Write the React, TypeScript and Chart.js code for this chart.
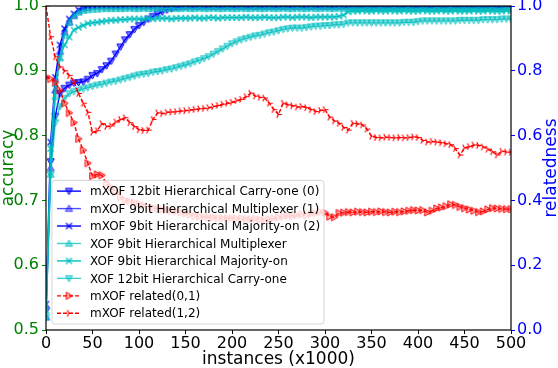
import React, { useEffect, useRef } from 'react';
import { Chart, registerables } from 'chart.js';

Chart.register(...registerables);

// ---------- data ----------
const instances = [
  0, 5, 10, 15, 20, 25, 30, 35, 40, 45,
  50, 55, 60, 65, 70, 75, 80, 85, 90, 95,
  100, 105, 110, 115, 120, 125, 130, 135, 140, 145,
  150, 155, 160, 165, 170, 175, 180, 185, 190, 195,
  200, 205, 210, 215, 220, 225, 230, 235, 240, 245,
  250, 255, 260, 265, 270, 275, 280, 285, 290, 295,
  300, 305, 310, 315, 320, 325, 330, 335, 340, 345,
  350, 355, 360, 365, 370, 375, 380, 385, 390, 395,
  400, 405, 410, 415, 420, 425, 430, 435, 440, 445,
  450, 455, 460, 465, 470, 475, 480, 485, 490, 495,
  500,
];

const seriesLabels = [
  'mXOF 12bit Hierarchical Carry-one (0)',
  'mXOF 9bit Hierarchical Multiplexer (1)',
  'mXOF 9bit Hierarchical Majority-on (2)',
  'XOF 9bit Hierarchical Multiplexer',
  'XOF 9bit Hierarchical Majority-on',
  'XOF 12bit Hierarchical Carry-one',
  'mXOF related(0,1)',
  'mXOF related(1,2)',
];

const mxofCarry12 = [
  0.53, 0.76, 0.83, 0.865, 0.873, 0.878, 0.881, 0.882, 0.883, 0.887,
  0.893, 0.896, 0.902, 0.908, 0.915, 0.926, 0.937, 0.948, 0.956, 0.964,
  0.970, 0.975, 0.980, 0.984, 0.988, 0.991, 0.994, 0.996, 0.998, 0.999,
  1, 1, 1, 1, 1, 1, 1, 1, 1, 1,
  1, 1, 1, 1, 1, 1, 1, 1, 1, 1,
  1, 1, 1, 1, 1, 1, 1, 1, 1, 1,
  1, 1, 1, 1, 1, 1, 1, 1, 1, 1,
  1, 1, 1, 1, 1, 1, 1, 1, 1, 1,
  1, 1, 1, 1, 1, 1, 1, 1, 1, 1,
  1, 1, 1, 1, 1, 1, 1, 1, 1, 1,
  1,
];

const mxofMux9 = [
  0.52, 0.75, 0.87, 0.93, 0.96, 0.975, 0.985, 0.992, 0.996, 0.998,
  0.999, 1, 1, 1, 1, 1, 1, 1, 1, 1,
  1, 1, 1, 1, 1, 1, 1, 1, 1, 1,
  1, 1, 1, 1, 1, 1, 1, 1, 1, 1,
  1, 1, 1, 1, 1, 1, 1, 1, 1, 1,
  1, 1, 1, 1, 1, 1, 1, 1, 1, 1,
  1, 1, 1, 1, 1, 1, 1, 1, 1, 1,
  1, 1, 1, 1, 1, 1, 1, 1, 1, 1,
  1, 1, 1, 1, 1, 1, 1, 1, 1, 1,
  1, 1, 1, 1, 1, 1, 1, 1, 1, 1,
  1,
];

const mxofMaj9 = [
  0.54, 0.79, 0.89, 0.94, 0.965, 0.98, 0.988, 0.994, 0.997, 0.999,
  1, 1, 1, 1, 1, 1, 1, 1, 1, 1,
  1, 1, 1, 1, 1, 1, 1, 1, 1, 1,
  1, 1, 1, 1, 1, 1, 1, 1, 1, 1,
  1, 1, 1, 1, 1, 1, 1, 1, 1, 1,
  1, 1, 1, 1, 1, 1, 1, 1, 1, 1,
  1, 1, 1, 1, 1, 1, 1, 1, 1, 1,
  1, 1, 1, 1, 1, 1, 1, 1, 1, 1,
  1, 1, 1, 1, 1, 1, 1, 1, 1, 1,
  1, 1, 1, 1, 1, 1, 1, 1, 1, 1,
  1,
];

const xofMux9 = [
  0.52, 0.74, 0.86, 0.92, 0.955, 0.975, 0.985, 0.99, 0.993, 0.994,
  0.995, 0.995, 0.996, 0.996, 0.996, 0.996, 0.996, 0.996, 0.997, 0.996,
  0.996, 0.997, 0.996, 0.996, 0.997, 0.996, 0.996, 0.997, 0.996, 0.996,
  0.997, 0.996, 0.996, 0.997, 0.996, 0.996, 0.997, 0.996, 0.996, 0.997,
  0.996, 0.996, 0.997, 0.996, 0.996, 0.997, 0.996, 0.996, 0.997, 0.996,
  0.996, 0.997, 0.996, 0.996, 0.997, 0.996, 0.996, 0.997, 0.996, 0.996,
  0.997, 0.996, 0.996, 0.997, 0.996, 0.996, 0.997, 0.996, 0.996, 0.997,
  0.996, 0.996, 0.997, 0.996, 0.996, 0.997, 0.996, 0.996, 0.997, 0.996,
  0.996, 0.997, 0.996, 0.996, 0.997, 0.996, 0.996, 0.997, 0.996, 0.996,
  0.997, 0.996, 0.996, 0.997, 0.996, 0.996, 0.997, 0.996, 0.996, 0.997,
  0.996,
];

const xofMaj9 = [
  0.53, 0.78, 0.88, 0.92, 0.94, 0.952, 0.963, 0.967, 0.970, 0.973,
  0.974, 0.975, 0.976, 0.977, 0.978, 0.978, 0.979, 0.979, 0.98, 0.98,
  0.98, 0.98, 0.981, 0.98, 0.981, 0.981, 0.981, 0.98, 0.981, 0.981,
  0.981, 0.981, 0.982, 0.981, 0.981, 0.982, 0.982, 0.981, 0.982, 0.982,
  0.982, 0.982, 0.982, 0.983, 0.982, 0.982, 0.982, 0.983, 0.982, 0.982,
  0.982, 0.983, 0.983, 0.982, 0.983, 0.983, 0.983, 0.982, 0.983, 0.983,
  0.983, 0.983, 0.983, 0.984, 0.986, 0.991, 0.992, 0.992, 0.993, 0.992,
  0.992, 0.993, 0.992, 0.992, 0.993, 0.992, 0.992, 0.993, 0.992, 0.992,
  0.992, 0.993, 0.992, 0.992, 0.992, 0.993, 0.992, 0.992, 0.993, 0.992,
  0.992, 0.992, 0.993, 0.992, 0.992, 0.993, 0.992, 0.992, 0.992, 0.993,
  0.992,
];

const xofCarry12 = [
  0.52, 0.74, 0.82, 0.845, 0.858, 0.865, 0.868, 0.870, 0.872, 0.874,
  0.876, 0.878, 0.879, 0.881, 0.883, 0.884, 0.886, 0.888, 0.890, 0.892,
  0.894, 0.895, 0.896, 0.898, 0.899, 0.900, 0.902, 0.903, 0.905, 0.907,
  0.909, 0.911, 0.914, 0.916, 0.919, 0.922, 0.926, 0.930, 0.934, 0.938,
  0.942, 0.945, 0.948, 0.950, 0.952, 0.954, 0.955, 0.957, 0.959, 0.960,
  0.962, 0.964, 0.965, 0.966, 0.966, 0.966, 0.967, 0.968, 0.969, 0.969,
  0.970, 0.970, 0.971, 0.971, 0.972, 0.974, 0.974, 0.974, 0.974, 0.974,
  0.974, 0.974, 0.974, 0.974, 0.974, 0.974, 0.974, 0.975, 0.975, 0.975,
  0.976, 0.977, 0.977, 0.977, 0.977, 0.977, 0.977, 0.977, 0.977, 0.978,
  0.978, 0.978, 0.978, 0.978, 0.979, 0.979, 0.979, 0.979, 0.980, 0.980,
  0.980,
];

const related01 = [
  0.78, 0.775, 0.765, 0.74, 0.70, 0.67, 0.64, 0.59, 0.555, 0.515,
  0.475, 0.48, 0.478, 0.452, 0.44, 0.425, 0.41, 0.40, 0.397, 0.393,
  0.39, 0.385, 0.38, 0.377, 0.374, 0.372, 0.37, 0.368, 0.366, 0.363,
  0.36, 0.357, 0.352, 0.35, 0.349, 0.348, 0.347, 0.346, 0.345, 0.346,
  0.345, 0.344, 0.345, 0.343, 0.342, 0.343, 0.341, 0.34, 0.342, 0.345,
  0.348, 0.351, 0.353, 0.352, 0.355, 0.357, 0.355, 0.358, 0.361, 0.364,
  0.362, 0.35, 0.348, 0.361, 0.362, 0.364, 0.363, 0.365, 0.364, 0.363,
  0.365, 0.364, 0.366, 0.364, 0.363, 0.365, 0.364, 0.366, 0.368, 0.37,
  0.369, 0.37, 0.363, 0.368, 0.375, 0.378, 0.382, 0.388, 0.386, 0.38,
  0.376, 0.372, 0.368, 0.364, 0.366, 0.372, 0.376, 0.375, 0.374, 0.373,
  0.373,
];

const related12 = [
  1.0, 0.905, 0.843, 0.812, 0.80, 0.785, 0.768, 0.73, 0.70, 0.672,
  0.61, 0.615, 0.637, 0.628, 0.63, 0.642, 0.65, 0.655, 0.64, 0.628,
  0.618, 0.616, 0.617, 0.65, 0.67, 0.668, 0.672, 0.673, 0.674, 0.676,
  0.677, 0.679, 0.681, 0.683, 0.684, 0.686, 0.69, 0.693, 0.697, 0.70,
  0.703, 0.708, 0.712, 0.72, 0.731, 0.722, 0.718, 0.716, 0.70, 0.68,
  0.665, 0.70, 0.695, 0.692, 0.688, 0.69, 0.686, 0.68, 0.674, 0.678,
  0.68, 0.657, 0.645, 0.638, 0.625, 0.617, 0.638, 0.636, 0.633, 0.62,
  0.598, 0.594, 0.593, 0.595, 0.594, 0.593, 0.594, 0.593, 0.594, 0.596,
  0.594, 0.585, 0.58, 0.582, 0.58, 0.578, 0.575, 0.572, 0.56, 0.54,
  0.562, 0.566, 0.571, 0.57, 0.565, 0.558, 0.55, 0.54, 0.552, 0.549,
  0.549,
];

const accuracyTicks = [0.5, 0.6, 0.7, 0.8, 0.9, 1.0];
const relatednessTicks = [0, 0.2, 0.4, 0.6, 0.8, 1.0];
const instanceTicks = [0, 50, 100, 150, 200, 250, 300, 350, 400, 450, 500];

// ---------- styles ----------
const FONT = "'DejaVu Sans', 'Liberation Sans', sans-serif";

function makeMarker(kind: string, fill: string, stroke: string): HTMLCanvasElement {
  const size = 11;
  const c = document.createElement('canvas');
  c.width = size;
  c.height = size;
  const ctx = c.getContext('2d')!;
  const m = size / 2;
  const r = 3.6;
  ctx.lineWidth = 1;
  ctx.strokeStyle = stroke;
  ctx.fillStyle = fill;
  ctx.beginPath();
  if (kind === 'v') {
    ctx.moveTo(m - r, m - r * 0.75);
    ctx.lineTo(m + r, m - r * 0.75);
    ctx.lineTo(m, m + r);
    ctx.closePath();
    ctx.fill();
    ctx.stroke();
  } else if (kind === '^') {
    ctx.moveTo(m - r, m + r * 0.75);
    ctx.lineTo(m + r, m + r * 0.75);
    ctx.lineTo(m, m - r);
    ctx.closePath();
    ctx.fill();
    ctx.stroke();
  } else if (kind === '>') {
    ctx.moveTo(m - r * 0.75, m - r);
    ctx.lineTo(m - r * 0.75, m + r);
    ctx.lineTo(m + r, m);
    ctx.closePath();
    ctx.fill();
    ctx.stroke();
  } else if (kind === 'x') {
    ctx.lineWidth = 1.2;
    ctx.moveTo(m - 3, m - 3);
    ctx.lineTo(m + 3, m + 3);
    ctx.moveTo(m - 3, m + 3);
    ctx.lineTo(m + 3, m - 3);
    ctx.stroke();
  } else if (kind === 'tri') {
    ctx.lineWidth = 1.1;
    ctx.moveTo(m, m);
    ctx.lineTo(m + r, m);
    ctx.moveTo(m, m);
    ctx.lineTo(m - r * 0.5, m - r * 0.87);
    ctx.moveTo(m, m);
    ctx.lineTo(m - r * 0.5, m + r * 0.87);
    ctx.stroke();
  }
  return c;
}

const legendPlugin = {
  id: 'mplOverlay',
  afterDatasetsDraw(chart: any) {
    const { ctx, chartArea: a } = chart;
    ctx.save();
    // spines
    ctx.strokeStyle = '#000';
    ctx.lineWidth = 1.2;
    ctx.strokeRect(a.left, a.top, a.right - a.left, a.bottom - a.top);

    // legend box
    const rowH = 17.45;
    const n = chart.data.datasets.length;
    const bx = a.left + 6;
    const bw = 272;
    const bh = rowH * n + 4;
    const by = a.bottom - 6 - bh;
    const rad = 3;
    ctx.beginPath();
    ctx.moveTo(bx + rad, by);
    ctx.lineTo(bx + bw - rad, by);
    ctx.quadraticCurveTo(bx + bw, by, bx + bw, by + rad);
    ctx.lineTo(bx + bw, by + bh - rad);
    ctx.quadraticCurveTo(bx + bw, by + bh, bx + bw - rad, by + bh);
    ctx.lineTo(bx + rad, by + bh);
    ctx.quadraticCurveTo(bx, by + bh, bx, by + bh - rad);
    ctx.lineTo(bx, by + rad);
    ctx.quadraticCurveTo(bx, by, bx + rad, by);
    ctx.closePath();
    ctx.fillStyle = 'rgba(255,255,255,0.8)';
    ctx.fill();
    ctx.strokeStyle = 'rgba(204,204,204,0.8)';
    ctx.lineWidth = 1;
    ctx.stroke();

    ctx.font = `12px ${FONT}`;
    ctx.textBaseline = 'middle';
    ctx.textAlign = 'left';
    chart.data.datasets.forEach((ds: any, i: number) => {
      const cy = by + 2 + rowH * (i + 0.5);
      const x0 = bx + 5;
      const x1 = bx + 29;
      ctx.save();
      ctx.strokeStyle = ds.borderColor;
      ctx.lineWidth = ds.borderWidth;
      ctx.setLineDash(ds.borderDash || []);
      ctx.beginPath();
      ctx.moveTo(x0, cy);
      ctx.lineTo(x1, cy);
      ctx.stroke();
      ctx.restore();
      const img = ds.pointStyle as HTMLCanvasElement;
      ctx.drawImage(img, (x0 + x1) / 2 - img.width / 2, cy - img.height / 2);
      ctx.fillStyle = '#000';
      ctx.fillText(ds.label, bx + 38, cy + 1);
    });
    ctx.restore();
  },
  afterDraw(chart: any) {
    const { ctx, chartArea: a } = chart;
    ctx.save();
    ctx.font = `17px ${FONT}`;
    ctx.textAlign = 'center';
    ctx.textBaseline = 'alphabetic';
    const midY = (a.top + a.bottom) / 2;
    // left title
    ctx.save();
    ctx.translate(13, midY);
    ctx.rotate(-Math.PI / 2);
    ctx.fillStyle = 'green';
    ctx.fillText('accuracy', 0, 0);
    ctx.restore();
    // right title
    ctx.save();
    ctx.translate(556, midY);
    ctx.rotate(-Math.PI / 2);
    ctx.fillStyle = 'blue';
    ctx.fillText('relatedness', 0, 0);
    ctx.restore();
    // bottom title
    ctx.fillStyle = '#000';
    ctx.fillText('instances (x1000)', (a.left + a.right) / 2, 364);
    ctx.restore();
  },
};

export default function App() {
  const ref = useRef<HTMLCanvasElement | null>(null);

  useEffect(() => {
    if (!ref.current) return;
    const BLUE = '#0000ff';
    const BLUE2 = 'rgba(0,0,255,0.7)';
    const CYAN = '#00bfbf';
    const CYAN2 = 'rgba(0,191,191,0.75)';
    const RED = '#ff0000';

    const pairs = (arr: number[]) => instances.map((x, i) => ({ x, y: arr[i] }));

    const specs = [
      { data: mxofCarry12, color: BLUE, marker: makeMarker('v', 'rgba(0,0,255,0.45)', BLUE), axis: 'y', dash: [], order: 4 },
      { data: mxofMux9, color: BLUE2, marker: makeMarker('^', 'rgba(0,0,255,0.35)', BLUE2), axis: 'y', dash: [], order: 4 },
      { data: mxofMaj9, color: BLUE, marker: makeMarker('x', BLUE, BLUE), axis: 'y', dash: [], order: 4 },
      { data: xofMux9, color: CYAN2, marker: makeMarker('^', 'rgba(0,191,191,0.45)', CYAN2), axis: 'y', dash: [], order: 3 },
      { data: xofMaj9, color: CYAN, marker: makeMarker('x', CYAN, CYAN), axis: 'y', dash: [], order: 3 },
      { data: xofCarry12, color: CYAN2, marker: makeMarker('v', 'rgba(0,191,191,0.45)', CYAN2), axis: 'y', dash: [], order: 3 },
      { data: related01, color: RED, marker: makeMarker('>', 'rgba(255,0,0,0.3)', RED), axis: 'y1', dash: [4, 2], order: 1 },
      { data: related12, color: RED, marker: makeMarker('tri', RED, RED), axis: 'y1', dash: [4, 2], order: 1 },
    ];

    const datasets = specs.map((s, i) => ({
      label: seriesLabels[i],
      data: pairs(s.data),
      yAxisID: s.axis,
      borderColor: s.color,
      backgroundColor: s.color,
      borderWidth: 1.4,
      borderDash: s.dash,
      pointStyle: s.marker,
      pointRadius: 3,
      pointHoverRadius: 3,
      tension: 0,
      fill: false,
      order: s.order,
    }));

    const tickFont = { family: FONT, size: 16 };

    const chart = new Chart(ref.current, {
      type: 'line',
      data: { datasets } as any,
      options: {
        animation: false,
        responsive: false,
        maintainAspectRatio: false,
        events: [],
        layout: { padding: { top: 6, left: 0, right: 0, bottom: 0 } },
        plugins: {
          legend: { display: false },
          tooltip: { enabled: false },
        },
        scales: {
          x: {
            type: 'linear',
            min: 0,
            max: 500,
            afterBuildTicks: (s: any) => {
              s.ticks = instanceTicks.map((v) => ({ value: v }));
            },
            ticks: {
              color: '#000',
              font: tickFont,
              padding: 0,
              maxRotation: 0,
              autoSkip: false,
              callback: (v: any) => String(v),
            },
            grid: { drawOnChartArea: false, drawTicks: true, tickLength: 4, color: '#000', lineWidth: 1 },
            border: { display: false },
            afterFit: (s: any) => {
              s.height = 38;
              s.paddingLeft = 0;
              s.paddingRight = 0;
            },
          },
          y: {
            type: 'linear',
            position: 'left',
            min: 0.5,
            max: 1.0,
            afterBuildTicks: (s: any) => {
              s.ticks = accuracyTicks.map((v) => ({ value: v }));
            },
            ticks: {
              color: 'green',
              font: tickFont,
              padding: 3,
              autoSkip: false,
              callback: (v: any) => Number(v).toFixed(1),
            },
            grid: { drawOnChartArea: false, drawTicks: true, tickLength: 4, color: 'green', lineWidth: 1 },
            border: { display: false },
            afterFit: (s: any) => {
              s.width = 46;
              s.paddingTop = 0;
              s.paddingBottom = 0;
            },
          },
          y1: {
            type: 'linear',
            position: 'right',
            min: 0,
            max: 1,
            afterBuildTicks: (s: any) => {
              s.ticks = relatednessTicks.map((v) => ({ value: v }));
            },
            ticks: {
              color: 'blue',
              font: tickFont,
              padding: 2,
              autoSkip: false,
              callback: (v: any) => Number(v).toFixed(1),
            },
            grid: { drawOnChartArea: false, drawTicks: true, tickLength: 4, color: 'blue', lineWidth: 1 },
            border: { display: false },
            afterFit: (s: any) => {
              s.width = 47;
              s.paddingTop = 0;
              s.paddingBottom = 0;
            },
          },
        },
      } as any,
      plugins: [legendPlugin],
    });

    return () => {
      chart.destroy();
    };
  }, []);

  return (
    <canvas
      ref={ref}
      width={558}
      height={368}
      style={{ position: 'absolute', left: 0, top: 0, width: 558, height: 368, display: 'block' }}
    />
  );
}
